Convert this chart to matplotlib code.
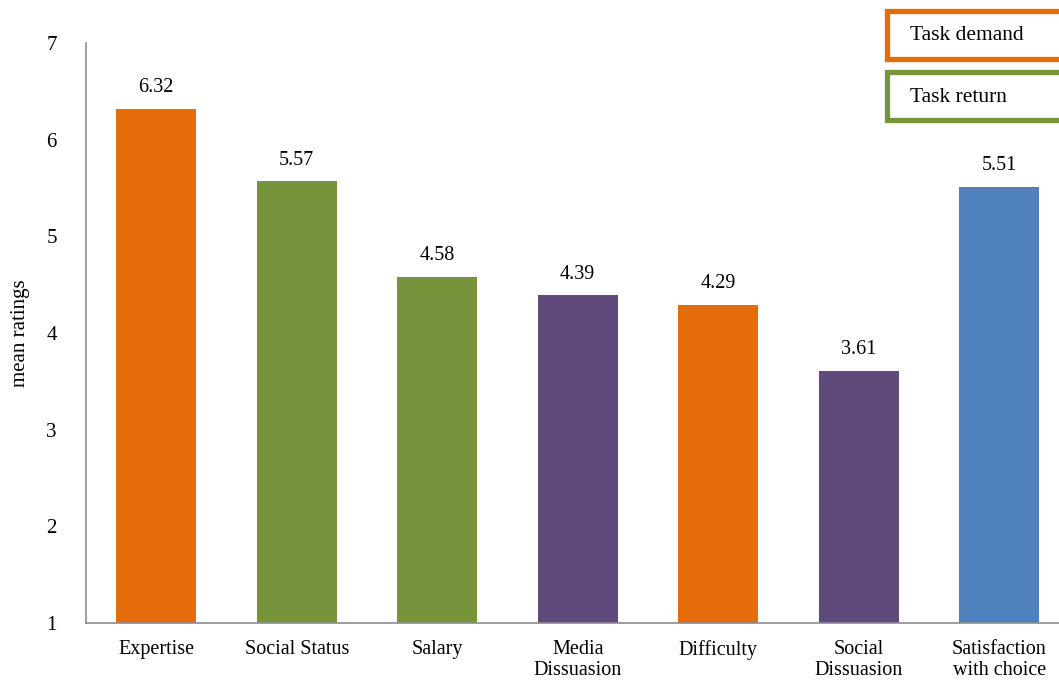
import matplotlib.pyplot as plt
from matplotlib.patches import Rectangle

categories = ["Expertise", "Social Status", "Salary", "Media\nDissuasion",
              "Difficulty", "Social\nDissuasion", "Satisfaction\nwith choice"]
values = [6.32, 5.57, 4.58, 4.39, 4.29, 3.61, 5.51]
colors = ["#E46C0A", "#77933C", "#77933C", "#604A7B", "#E46C0A", "#604A7B", "#4F81BD"]
legend_labels = ["Task demand", "Task return"]
legend_colors = ["#E46C0A", "#77933C"]

plt.rcParams["font.family"] = ["Liberation Serif", "DejaVu Serif"]

W, H = 1059, 682
fig = plt.figure(figsize=(W / 100, H / 100), dpi=100)
ax = fig.add_axes([86 / W, 59 / H, 983.5 / W, 580 / H])

x = range(len(categories))
ax.bar(x, [v - 1 for v in values], bottom=1, width=0.57, color=colors)
for i, v in zip(x, values):
    ax.text(i, v + 0.12, f"{v:.2f}", ha="center", va="bottom", fontsize=14.5)

ax.set_xlim(-0.5, len(categories) - 0.5)
ax.set_ylim(1, 7)
ax.set_yticks(range(1, 8))
ax.set_xticks(list(x))
ax.set_xticklabels(categories, fontsize=14.5, linespacing=1.15)
ax.tick_params(axis="both", length=0)
ax.tick_params(axis="y", pad=21, labelsize=15)
ax.tick_params(axis="x", pad=12)
for s in ["top", "right"]:
    ax.spines[s].set_visible(False)
for s in ["left", "bottom"]:
    ax.spines[s].set_color("#8c8c8c")
    ax.spines[s].set_linewidth(1.2)
ax.set_ylabel("mean ratings", fontsize=15, labelpad=12)

# legend boxes, cut off at the right edge like the reference
for k, (lab, col) in enumerate(zip(legend_labels, legend_colors)):
    y0 = 1 - (59 + k * 61) / H
    fig.patches.append(Rectangle((887 / W, y0), 200 / W, 48 / H, transform=fig.transFigure,
                                 facecolor="white", edgecolor=col, linewidth=3.8))
    fig.text(910 / W, y0 + 23 / H, lab, fontsize=15.5, va="center", ha="left")

fig.savefig("out.png", dpi=100)
